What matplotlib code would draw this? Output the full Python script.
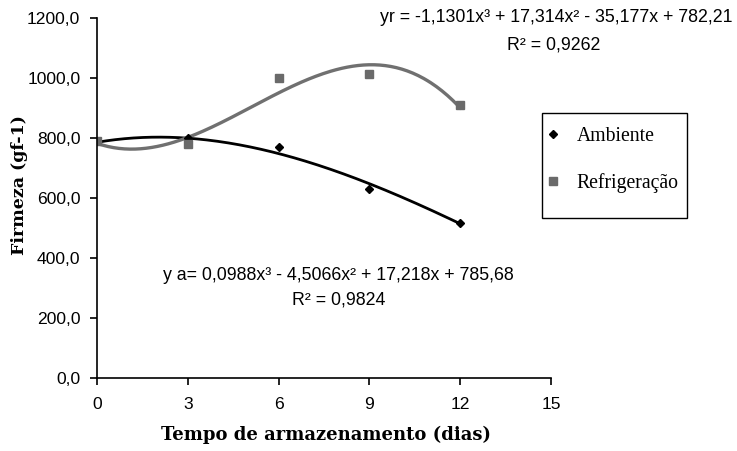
import numpy as np
import matplotlib
matplotlib.use("Agg")
import matplotlib.pyplot as plt
from matplotlib.ticker import FuncFormatter
from matplotlib.patches import Rectangle

dias = [0, 3, 6, 9, 12]
ambiente = [790, 800, 770, 630, 515]
refrigeracao = [790, 780, 1000, 1015, 910]

# trend line coefficients (x^3, x^2, x, 1) as printed on the chart
coef_amb = [0.0988, -4.5066, 17.218, 785.68]
coef_ref = [-1.1301, 17.314, -35.177, 782.21]

eq_amb = "y a= 0,0988x³ - 4,5066x² + 17,218x + 785,68"
r2_amb = "R² = 0,9824"
eq_ref = "yr = -1,1301x³ + 17,314x² - 35,177x + 782,21"
r2_ref = "R² = 0,9262"

sans = "Liberation Sans"
serif = "Liberation Serif"

fig = plt.figure(figsize=(7.37, 4.51), dpi=100)
ax = fig.add_axes([0.1316, 0.162, 0.616, 0.798])

xs = np.linspace(0, 12, 200)
ax.plot(xs, np.polyval(coef_amb, xs), color="black", lw=2)
ax.plot(xs, np.polyval(coef_ref, xs), color="#707070", lw=2.4)
ax.plot(dias, ambiente, "D", color="black", ms=4.5, ls="none", label="Ambiente")
ax.plot(dias, refrigeracao, "s", color="#6a6a6a", ms=6, ls="none", label="Refrigeração")

ax.set_xlim(0, 15)
ax.set_ylim(0, 1200)
ax.set_xticks([0, 3, 6, 9, 12, 15])
ax.set_yticks([0, 200, 400, 600, 800, 1000, 1200])
ax.yaxis.set_major_formatter(FuncFormatter(lambda v, p: f"{v:.1f}".replace(".", ",")))
for s in ["top", "right"]:
    ax.spines[s].set_visible(False)
for s in ["left", "bottom"]:
    ax.spines[s].set_linewidth(1.2)
ax.tick_params(direction="out", length=5, width=1.2, labelsize=12.6)
ax.tick_params(axis="y", pad=7)
ax.tick_params(axis="x", pad=9)
for lab in ax.get_xticklabels() + ax.get_yticklabels():
    lab.set_fontfamily(sans)

ax.set_xlabel("Tempo de armazenamento (dias)", fontfamily="DejaVu Serif", fontweight="bold",
              fontsize=13)
ax.xaxis.set_label_coords(0.505, -0.134)
ax.set_ylabel("Firmeza (gf-1)", fontfamily="DejaVu Serif", fontweight="bold", fontsize=12.5)
ax.yaxis.set_label_coords(-0.152, 0.535)

fig.text(0.755, 0.962, eq_ref, ha="center", va="center", fontfamily=sans, fontsize=12.8)
fig.text(0.751, 0.900, r2_ref, ha="center", va="center", fontfamily=sans, fontsize=12.8)
fig.text(0.459, 0.390, eq_amb, ha="center", va="center", fontfamily=sans, fontsize=12.8)
fig.text(0.460, 0.335, r2_amb, ha="center", va="center", fontfamily=sans, fontsize=12.8)

# legend box drawn separately so its padding matches the original
W, H = 737, 451
fig.patches.append(Rectangle((542 / W, 1 - 218 / H), 145 / W, 105 / H,
                             transform=fig.transFigure, fill=False,
                             edgecolor="black", lw=1.0))
fig.legend(loc="upper left", bbox_to_anchor=(544 / W, 1 - 127 / H), borderaxespad=0,
           frameon=False, borderpad=0, labelspacing=1.35, handletextpad=0.75,
           handlelength=0.9, prop={"family": serif, "size": 14.2})

fig.savefig("out.png", dpi=100)
